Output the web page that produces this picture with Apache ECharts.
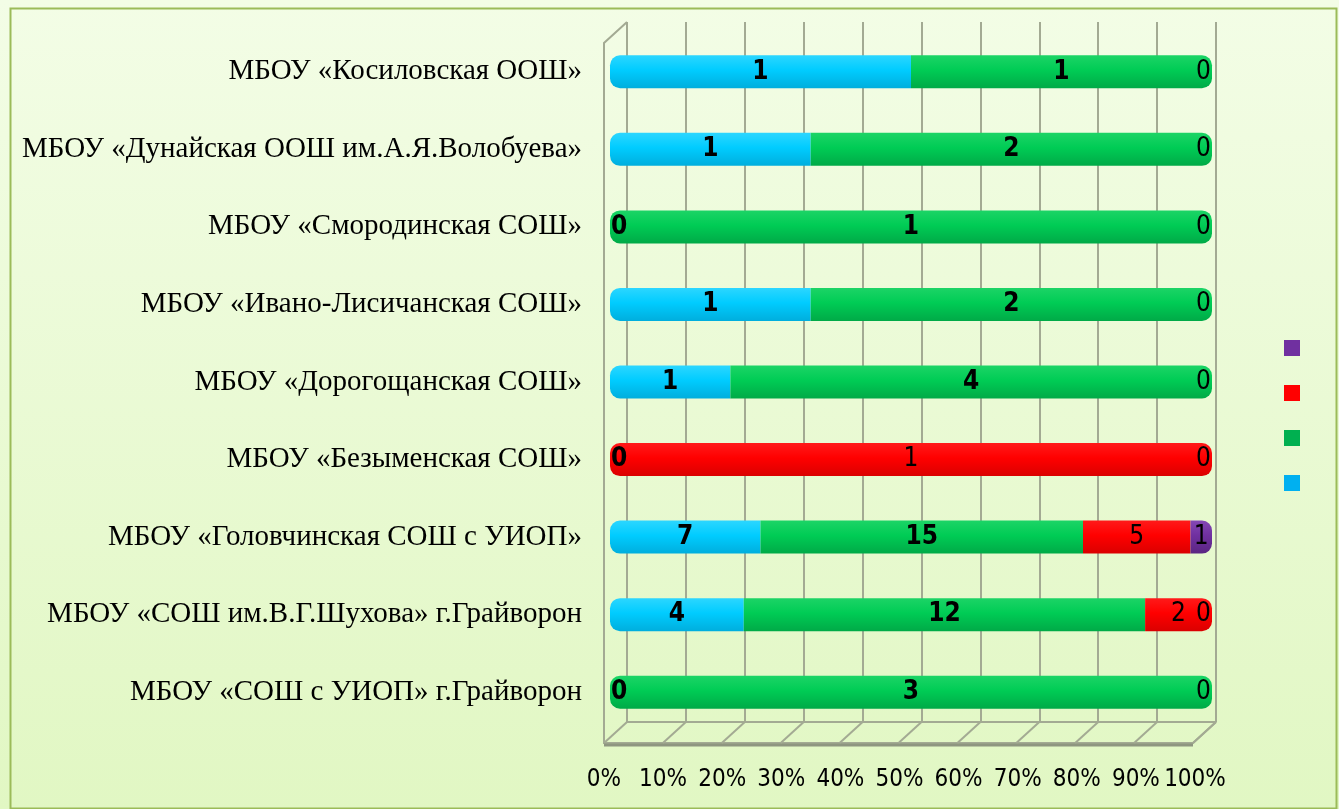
<!DOCTYPE html>
<html>
<head>
<meta charset="utf-8">
<script src="https://cdn.jsdelivr.net/npm/echarts@6/dist/echarts.min.js"></script>
<style>
html,body{margin:0;padding:0;width:1339px;height:809px;overflow:hidden;}
#chart{width:1339px;height:809px;}
</style>
</head>
<body>
<div id="chart"></div>
<script>
// ---- DATA ----
const categories = [
  'МБОУ «Косиловская ООШ»',
  'МБОУ «Дунайская ООШ им.А.Я.Волобуева»',
  'МБОУ «Смородинская СОШ»',
  'МБОУ «Ивано-Лисичанская СОШ»',
  'МБОУ «Дорогощанская СОШ»',
  'МБОУ «Безыменская СОШ»',
  'МБОУ «Головчинская СОШ с УИОП»',
  'МБОУ «СОШ им.В.Г.Шухова» г.Грайворон',
  'МБОУ «СОШ с УИОП» г.Грайворон'
];
const seriesNames = ['Ряд1', 'Ряд2', 'Ряд3', 'Ряд4'];
const blueValues   = [1, 1, 0, 1, 1, 0, 7, 4, 0];
const greenValues  = [1, 2, 1, 2, 4, null, 15, 12, 3];
const redValues    = [null, null, null, null, null, 1, 5, 2, null];
const purpleValues = [0, 0, 0, 0, 0, 0, 1, 0, 0];
const tickLabels = ['0%','10%','20%','30%','40%','50%','60%','70%','80%','90%','100%'];
const tickValues = [0,10,20,30,40,50,60,70,80,90,100];

// ---- BUILD ----
const allValues = [blueValues, greenValues, redValues, purpleValues];
const totals = categories.map((c, i) => allValues.reduce((s, arr) => s + (arr[i] || 0), 0));

const fills = [
  {top:'#2CD6FF', mid:'#00CCFF', bot:'#00AEDD', legend:'#00B0F0'},
  {top:'#1CD466', mid:'#00CC55', bot:'#00AA47', legend:'#00B050'},
  {top:'#FF1A1A', mid:'#FF0000', bot:'#DA0000', legend:'#FF0000'},
  {top:'#8448B5', mid:'#7030A0', bot:'#5A2682', legend:'#7030A0'}
];
function grad(f){
  return {type:'linear',x:0,y:0,x2:0,y2:1,colorStops:[
    {offset:0,color:f.top},{offset:0.45,color:f.mid},{offset:1,color:f.bot}]};
}

const labelFont = '"DejaVu Sans Condensed", "Liberation Sans", sans-serif';

function buildSeries(k){
  const arr = allValues[k];
  return {
    name: seriesNames[k],
    type: 'bar',
    stack: 'total',
    xAxisIndex: 1, yAxisIndex: 1,
    barWidth: 33,
    itemStyle: {color: grad(fills[k])},
    data: arr.map((v, i) => {
      if (v === null) return null;
      const pct = totals[i] ? v / totals[i] * 100 : 0;
      let first = -1, last = -1;
      for (let j = 0; j < 4; j++) { if (allValues[j][i]) { if (first < 0) first = j; last = j; } }
      const r = [k===first?10:0, k===last?10:0, k===last?10:0, k===first?10:0];
      let pos = 'inside';
      if (v === 0) pos = (k === 0 ? 'insideLeft' : 'insideRight');
      return {
        value: pct,
        raw: v,
        itemStyle: {borderRadius: r},
        label: {position: pos, distance: 1}
      };
    }),
    label: {
      show: true,
      formatter: p => String(p.data.raw),
      color: '#000',
      fontFamily: labelFont,
      fontSize: 26,
      fontWeight: (k < 2) ? 'bold' : 'normal'
    }
  };
}

const chart = echarts.init(document.getElementById('chart'), null, {renderer:'canvas'});
const D = [-23, 21]; // depth offset for the 3D floor/wall

const option = {
  animation: false,
  backgroundColor: {type:'linear',x:0,y:0,x2:0,y2:1,colorStops:[
    {offset:0,color:'#F3FDE6'},{offset:1,color:'#E1F7C3'}]},
  legend: {
    orient: 'vertical',
    left: 1279, top: 335,
    itemWidth: 16, itemHeight: 16, itemGap: 29,
    icon: 'rect',
    formatter: () => '',
    selectedMode: false,
    data: [3,2,1,0].map(k => ({name: seriesNames[k], itemStyle:{color: fills[k].legend}}))
  },
  grid: [
    {left: 627, right: 123, top: 22, bottom: 87},   // back wall
    {left: 610, right: 127, top: 33, bottom: 78},   // bars
    {left: 604, right: 144, top: 42, bottom: 67}    // front edge / labels
  ],
  xAxis: [
    {gridIndex:0, type:'value', min:0, max:100, interval:10,
     axisLabel:{show:false}, axisTick:{show:false}, axisLine:{show:false},
     splitLine:{show:true, lineStyle:{color:'#A3AA93', width:2}}},
    {gridIndex:1, type:'value', min:0, max:100, interval:10,
     axisLabel:{show:false}, axisTick:{show:false}, axisLine:{show:false}, splitLine:{show:false}},
    {gridIndex:2, type:'value', min:0, max:100, interval:10,
     axisLabel:{show:true, formatter: v => tickLabels[tickValues.indexOf(v)], color:'#000',
       fontFamily: labelFont, fontSize: 24, margin: 26, showMinLabel:true, showMaxLabel:true, hideOverlap:false},
     axisTick:{show:false}, axisLine:{show:false}, splitLine:{show:false}}
  ],
  yAxis: [
    {gridIndex:0, type:'value', min:0, max:1, show:false},
    {gridIndex:1, type:'category', inverse:true, data: categories,
     axisLine:{show:false}, axisTick:{show:false},
     axisLabel:{color:'#000', fontFamily:'"Liberation Serif", "Times New Roman", serif', fontSize:29, margin:28}},
    {gridIndex:2, type:'value', min:0, max:1, show:false}
  ],
  series: [
    {
      type:'custom', xAxisIndex:0, yAxisIndex:0, silent:true, z:1,
      data: tickValues.map(v => [v]),
      renderItem: (params, api) => {
        const v = api.value(0);
        const b = api.coord([v, 0]);
        const children = [{
          type:'line',
          shape:{x1:b[0], y1:b[1], x2:b[0]+D[0], y2:b[1]+D[1]},
          style:{stroke:'#A3AA93', lineWidth:2}
        }];
        if (params.dataIndex === 0) {
          const t = api.coord([0, 1]);
          const e = api.coord([100, 0]);
          children.push({type:'polyline', shape:{points:[[t[0],t[1]],[t[0]+D[0],t[1]+D[1]],[b[0]+D[0],b[1]+D[1]],[e[0]+D[0],e[1]+D[1]],[e[0],e[1]]]},
            style:{stroke:'#A3AA93', lineWidth:2, fill:null}});
          children.push({type:'line', shape:{x1:b[0]+D[0], y1:b[1]+D[1]+2, x2:e[0]+D[0], y2:e[1]+D[1]+2},
            style:{stroke:'#8E9680', lineWidth:3}});
          children.push({type:'line', shape:{x1:b[0], y1:b[1], x2:e[0], y2:e[1]},
            style:{stroke:'#A3AA93', lineWidth:2}});
        }
        return {type:'group', children};
      }
    },
    buildSeries(0), buildSeries(1), buildSeries(2), buildSeries(3)
  ],
  graphic: [{
    type:'rect', left: 8, top: 6, silent:true, z:100,
    shape:{width:1326, height:800},
    style:{fill:null, stroke:'#9BBB59', lineWidth:2}
  }]
};
chart.setOption(option);
</script>
</body>
</html>
